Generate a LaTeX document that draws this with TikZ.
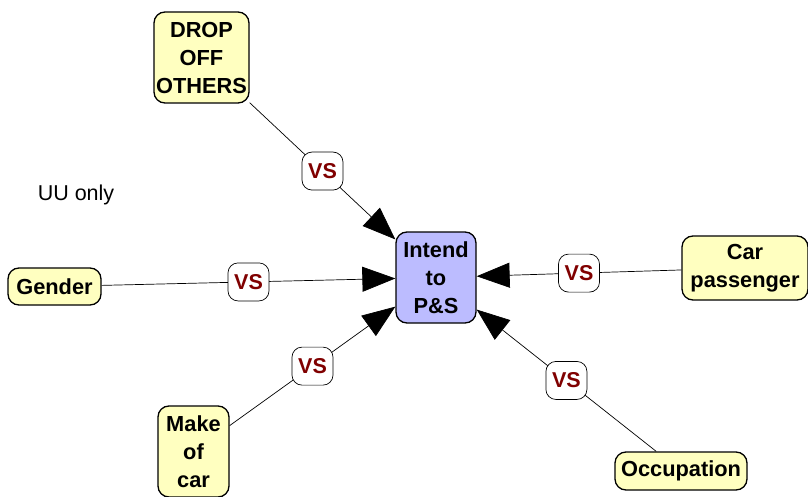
\documentclass[tikz,border=0pt]{standalone}
\usepackage{fontspec}
\setmainfont{Liberation Sans}
\usetikzlibrary{arrows.meta}
\definecolor{boxyellow}{RGB}{255,255,192}
\definecolor{boxblue}{RGB}{188,188,255}
\definecolor{vsred}{RGB}{128,0,0}
\tikzset{
    factor/.style={draw, line width=1.3pt, rounded corners=11pt, fill=boxyellow, align=center, inner sep=0pt, font=\fontsize{21.8}{28}\selectfont\bfseries},
    vsbox/.style={draw, fill=white, rounded corners=10pt, minimum width=41pt, minimum height=38pt, inner sep=0pt, text=vsred, font=\fontsize{21.5}{25}\selectfont\bfseries},
    link/.style={-{Triangle[length=33pt,width=25pt]}, line width=0.7pt}
}
\begin{document}
\begin{tikzpicture}[x=1pt, y=-1pt]
            \useasboundingbox (0,0) rectangle (808,497);
            \node[factor, minimum width=95pt, minimum height=91pt] (drop) at (201.5,57.5) {DROP\\OFF\\OTHERS};
            \node[factor, fill=boxblue, minimum width=80pt, minimum height=91pt] (intend) at (436,277.5) {Intend\\to\\P\&S};
            \node[factor, minimum width=93pt, minimum height=37pt] (gender) at (54.5,286.5) {Gender};
            \node[factor, minimum width=126pt, minimum height=64pt] (carpass) at (745,268) {Car\\passenger};
            \node[factor, minimum width=71pt, minimum height=91pt] (makecar) at (193.5,451.5) {Make\\of\\car};
            \node[factor, minimum width=132pt, minimum height=38pt] (occup) at (681,471) {Occupation};
            \node[font=\fontsize{21.5}{25}\selectfont] (uuonly) at (76,195) {UU only};
            \draw[link] (drop) -- node[vsbox] (vsdrop) {VS} (intend);
            \draw[link] (gender) -- node[vsbox] (vsgender) {VS} (intend);
            \draw[link] (makecar) -- node[vsbox] (vsmake) {VS} (intend);
            \draw[link] (carpass) -- node[vsbox] (vscar) {VS} (intend);
            \draw[link] (occup) -- node[vsbox] (vsoccup) {VS} (intend);
        \end{tikzpicture}
\end{document}
